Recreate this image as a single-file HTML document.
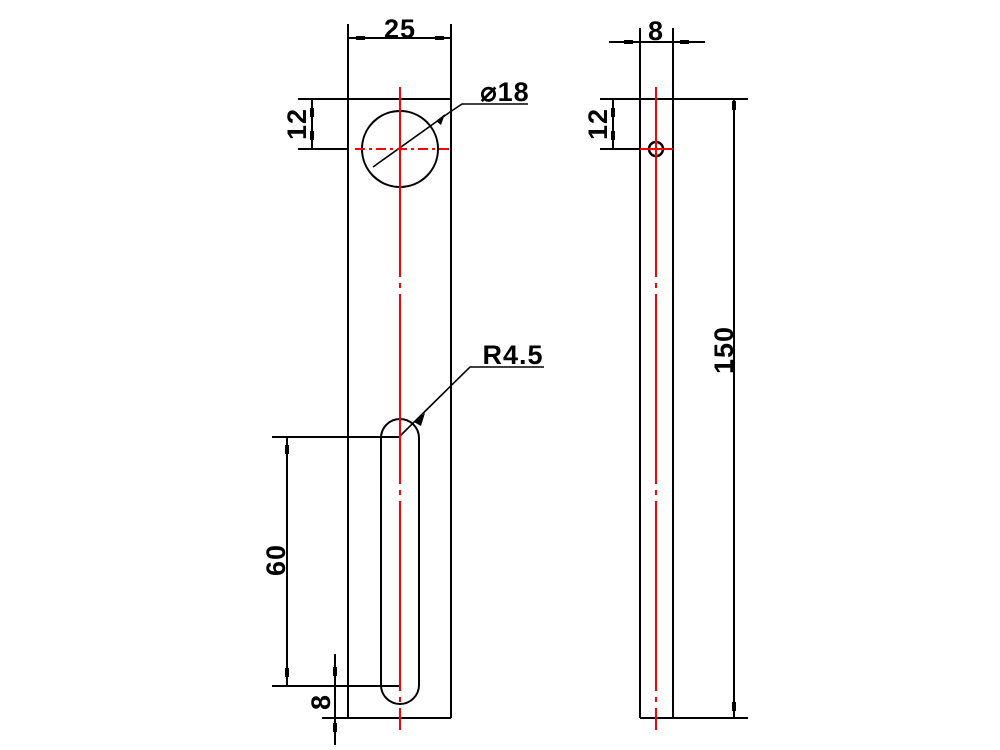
<!DOCTYPE html>
<html><head><meta charset="utf-8"><style>
html,body{margin:0;padding:0;background:#fff;}
svg{display:block;}
text{font-family:"Liberation Sans",sans-serif;font-weight:bold;font-size:27px;fill:#000;letter-spacing:1px;}
</style></head><body>
<svg width="1000" height="750" viewBox="0 0 1000 750" xmlns="http://www.w3.org/2000/svg">
<g stroke="#000" stroke-width="2" fill="none">
<line x1="348" y1="24" x2="348" y2="718"/>
<line x1="451" y1="24" x2="451" y2="718"/>
<line x1="298" y1="99" x2="451" y2="99"/>
<line x1="322" y1="718" x2="451" y2="718"/>
<line x1="348" y1="38" x2="451" y2="38"/>
<line x1="298" y1="149" x2="348" y2="149"/>
<line x1="312" y1="99" x2="312" y2="149"/>
<circle cx="400" cy="149" r="38"/>
<polyline points="373,167 450,112 462,104 528,104" stroke-width="1.6"/>
<path d="M381,438 A19,19 0 0 1 419,438 L419,685 A19,19 0 0 1 381,685 Z"/>
<line x1="272" y1="437" x2="400" y2="437"/>
<line x1="272" y1="686" x2="400" y2="686"/>
<line x1="287" y1="437" x2="287" y2="686"/>
<line x1="335" y1="654" x2="335" y2="745"/>
<polyline points="400,436 470,367 544,367" stroke-width="1.6"/>
<line x1="640" y1="28" x2="640" y2="718"/>
<line x1="673" y1="28" x2="673" y2="718"/>
<line x1="609" y1="42" x2="705" y2="42"/>
<line x1="600" y1="99" x2="748" y2="99"/>
<line x1="600" y1="149" x2="673" y2="149"/>
<line x1="613" y1="99" x2="613" y2="149"/>
<line x1="640" y1="718" x2="748" y2="718"/>
<line x1="734" y1="99" x2="734" y2="718"/>
<circle cx="656" cy="149" r="7" stroke-width="2.5"/>
</g>
<g fill="#000">
<rect x="356" y="36" width="9" height="4"/><rect x="435" y="36" width="9" height="4"/>
<rect x="310" y="108" width="4" height="9"/><rect x="310" y="131" width="4" height="9"/>
<rect x="285" y="445" width="4" height="9"/><rect x="285" y="668" width="4" height="9"/>
<rect x="333" y="667" width="4" height="9"/><rect x="333" y="723" width="4" height="9"/>
<rect x="624" y="40" width="9" height="4"/><rect x="680" y="40" width="9" height="4"/>
<rect x="611" y="108" width="4" height="9"/><rect x="611" y="131" width="4" height="9"/>
<rect x="732" y="101" width="4" height="9"/><rect x="732" y="702" width="4" height="9"/>
<polygon points="436,121 445,114 441,125"/>
<polygon points="414,422 425,413 421,426"/>
</g>
<g stroke="#f00" stroke-width="2" fill="none" stroke-dasharray="190 6 5 6">
<line x1="400" y1="87" x2="400" y2="730"/>
<line x1="656" y1="87" x2="656" y2="730"/>
</g>
<line x1="355" y1="149" x2="452" y2="149" stroke="#f00" stroke-width="2" stroke-dasharray="10 4 3 4"/>
<line x1="640" y1="149" x2="673" y2="149" stroke="#f00" stroke-width="2"/>
<text x="400" y="38" text-anchor="middle">25</text>
<text x="505" y="101" text-anchor="middle">⌀18</text>
<text x="513" y="364" text-anchor="middle">R4.5</text>
<text x="656" y="40" text-anchor="middle">8</text>
<text transform="translate(306,124) rotate(-90)" text-anchor="middle">12</text>
<text transform="translate(607,124) rotate(-90)" text-anchor="middle">12</text>
<text transform="translate(285,560) rotate(-90)" text-anchor="middle">60</text>
<text transform="translate(330,702) rotate(-90)" text-anchor="middle">8</text>
<text transform="translate(733,350) rotate(-90)" text-anchor="middle">150</text>
</svg>
</body></html>
